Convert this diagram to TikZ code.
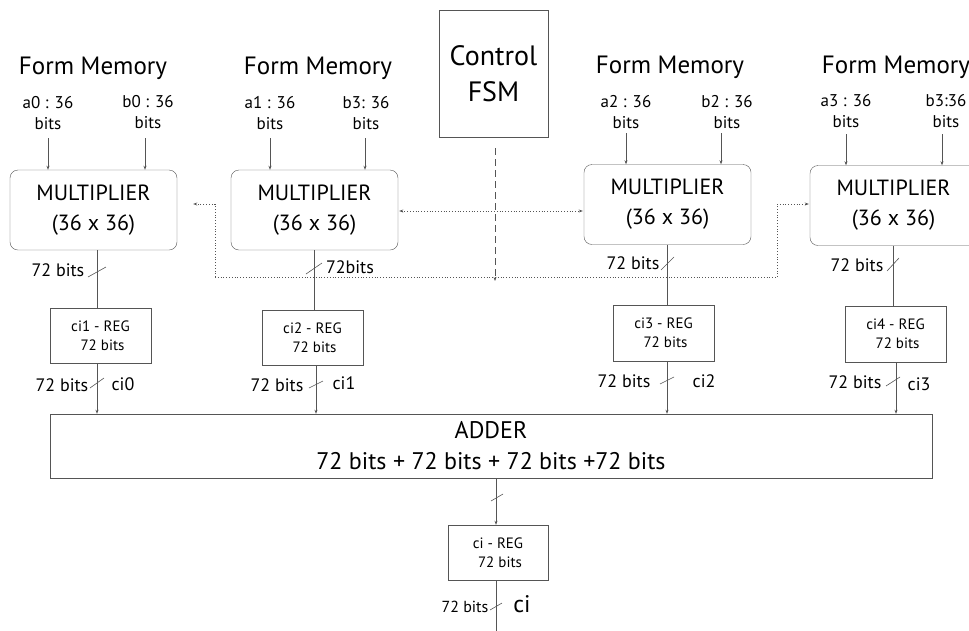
\documentclass[tikz,border=0pt]{standalone}
\usepackage{fontspec}
\setmainfont{PT Sans}
\usetikzlibrary{arrows.meta}
\definecolor{ln}{HTML}{555555}
\begin{document}
\begin{tikzpicture}[x=1pt,y=-1pt,
  mul/.style={draw=ln,rounded corners=8pt,inner sep=0pt,align=center,font=\fontsize{22}{30}\selectfont},
  reg/.style={draw=ln,inner sep=0pt,align=center,font=\fontsize{15}{19}\selectfont},
  lbl/.style={inner sep=0pt,align=center,font=\fontsize{17}{21}\selectfont},
  fm/.style={inner sep=0pt,font=\fontsize{25}{29}\selectfont},
  small/.style={inner sep=0pt,font=\fontsize{18}{22}\selectfont},
  wire/.style={draw=ln,line width=0.8pt},
  arr/.style={wire,-{Stealth[length=4pt,width=3pt]}},
  dot/.style={draw=ln,line width=0.8pt,dotted},
  slashmark/.style={draw=ln,line width=0.6pt}]
\useasboundingbox (0,0) rectangle (969,630);

% Control FSM
\node[draw=ln,minimum width=109pt,minimum height=127pt,inner sep=0pt,align=center,
  font=\fontsize{28}{36}\selectfont] (fsm) at (493.5,73.5) {Control\\FSM};

% Form memory labels
\node[fm] (fm1) at (93,68) {Form Memory};
\node[fm] (fm2) at (318,68) {Form Memory};
\node[fm] (fm3) at (670,67) {Form Memory};
\node[fm] (fm4) at (896,67) {Form Memory};

% inputs
\node[lbl] (a0) at (48,113) {a0 : 36\\bits};
\node[lbl] (b0) at (148,112) {b0 : 36\\bits};
\node[lbl] (a1) at (270,113) {a1 : 36\\bits};
\node[lbl] (b1) at (366,113) {b3: 36\\bits};
\node[lbl] (a2) at (626,112) {a2 : 36\\bits};
\node[lbl] (b2) at (727,112) {b2 : 36\\bits};
\node[lbl] (a3) at (846,111) {a3 : 36\\bits};
\node[lbl] (b3) at (946,111) {b3:36\\bits};

% multipliers
\node[mul,minimum width=167pt,minimum height=80pt] (m1) at (93.5,210) {MULTIPLIER\\(36 x 36)};
\node[mul,minimum width=167pt,minimum height=80pt] (m2) at (314.5,210) {MULTIPLIER\\(36 x 36)};
\node[mul,minimum width=167pt,minimum height=80pt] (m3) at (667.5,204.5) {MULTIPLIER\\(36 x 36)};
\node[mul,minimum width=167pt,minimum height=80pt] (m4) at (893.5,205.5) {MULTIPLIER\\(36 x 36)};

% input arrows
\coordinate (ia0) at (48,138); \coordinate (ib0) at (145,138);
\coordinate (ia1) at (270,138); \coordinate (ib1) at (365,138);
\coordinate (ia2) at (626,133); \coordinate (ib2) at (721,133);
\coordinate (ia3) at (846,134); \coordinate (ib3) at (942,134);
\draw[arr] (ia0) -- (ia0 |- m1.north);
\draw[arr] (ib0) -- (ib0 |- m1.north);
\draw[arr] (ia1) -- (ia1 |- m2.north);
\draw[arr] (ib1) -- (ib1 |- m2.north);
\draw[arr] (ia2) -- (ia2 |- m3.north);
\draw[arr] (ib2) -- (ib2 |- m3.north);
\draw[arr] (ia3) -- (ia3 |- m4.north);
\draw[arr] (ib3) -- (ib3 |- m4.north);

% registers
\node[reg,minimum width=101pt,minimum height=55pt] (r1) at (100.5,335.5) {ci1 - REG\\\ 72 bits};
\node[reg,minimum width=101pt,minimum height=55pt] (r2) at (312.5,337.5) {ci2 - REG\\\ 72 bits};
\node[reg,minimum width=101pt,minimum height=56pt] (r3) at (663.5,333) {ci3 - REG\\\ 72 bits};
\node[reg,minimum width=101pt,minimum height=56pt] (r4) at (895.5,334) {ci4 - REG\\\ 72 bits};

% multiplier to register
\coordinate (o1) at (97,0); \coordinate (o2) at (314,0);
\coordinate (o3) at (667,0); \coordinate (o4) at (893,0);
\draw[wire] (o1 |- m1.south) -- (o1 |- r1.north);
\draw[wire] (o2 |- m2.south) -- (o2 |- r2.north);
\draw[wire] (o3 |- m3.south) -- (o3 |- r3.north);
\draw[wire] (o4 |- m4.south) -- (o4 |- r4.north);
\draw[slashmark] (88,277) -- (106,267);
\draw[slashmark] (306,274) -- (322,263);
\draw[slashmark] (661,270) -- (674,257);
\draw[slashmark] (887,271) -- (899,258);
\node[small] (l1) at (58,270) {72 bits};
\node[small] (l2) at (350,267) {72bits};
\node[small] (l3) at (633,263) {72 bits};
\node[small] (l4) at (857,265) {72 bits};

% adder
\node[draw=ln,minimum width=882pt,minimum height=64pt,inner sep=0pt,align=center,
  font=\fontsize{24}{31}\selectfont] (add) at (491,446) {ADDER\\72 bits + 72 bits + 72 bits +72 bits};

% register to adder
\coordinate (p1) at (97,0); \coordinate (p2) at (316,0);
\coordinate (p3) at (667,0); \coordinate (p4) at (896,0);
\draw[arr] (p1 |- r1.south) -- (p1 |- add.north);
\draw[arr] (p2 |- r2.south) -- (p2 |- add.north);
\draw[arr] (p3 |- r3.south) -- (p3 |- add.north);
\draw[arr] (p4 |- r4.south) -- (p4 |- add.north);
\draw[slashmark] (90,388) -- (104,378);
\draw[slashmark] (309,388) -- (323,381);
\draw[slashmark] (660,384) -- (674,377);
\draw[slashmark] (886,386) -- (900,377);
\node[small] (q1) at (62,385) {72 bits};
\node[small] (c1) at (123,384) {ci0};
\node[small] (q2) at (277,385) {72 bits};
\node[small] (c2) at (344,383) {ci1};
\node[small] (q3) at (624,381) {72 bits};
\node[small] (c3) at (704,381) {ci2};
\node[small] (q4) at (855,382) {72 bits};
\node[small] (c4) at (919,384) {ci3};

% final register
\node[reg,minimum width=100pt,minimum height=55pt] (rf) at (498,552.5) {ci - REG\\\ 72 bits};
\coordinate (f) at (496,0);
\draw[arr] (f |- add.south) -- (f |- rf.north);
\draw[slashmark] (491,501) -- (503,494);
\coordinate (fend) at (496,632);
\draw[wire] (f |- rf.south) -- (fend);
\draw[slashmark] (490,610) -- (502,603);
\node[inner sep=0pt,font=\fontsize{16}{19}\selectfont] (qf) at (465,607) {72 bits};
\node[inner sep=0pt,font=\fontsize{24}{28}\selectfont] (cf) at (522,604) {ci};

% control lines
\coordinate (fsmb) at (495,148);
\coordinate (fsmc) at (495,281);
\draw[draw=ln,line width=0.8pt,dashed,dash pattern=on 7pt off 4pt,-{Stealth[length=4pt,width=3pt]}] (fsmb) -- (fsmc);
\draw[dot,{Stealth[length=4pt,width=3pt]}-{Stealth[length=4pt,width=3pt]}] ([xshift=1pt]m2.east |- 0,211) -- ([xshift=-1pt]m3.west |- 0,211);
\coordinate (d1) at (215,204);
\coordinate (d2) at (215,277);
\coordinate (d3) at (777,277);
\coordinate (d4) at (777,204);
\draw[dot,-{Stealth[length=4pt,width=3pt]}] (d4) -- ([xshift=-1pt]m4.west |- d4);
\draw[dot] (d3) -- (d4);
\draw[dot] (d2) -- (d3);
\draw[dot,-{Stealth[length=4pt,width=3pt]}] (d2) -- (d1) -- ([xshift=16pt]m1.east |- d1);
\end{tikzpicture}
\end{document}
